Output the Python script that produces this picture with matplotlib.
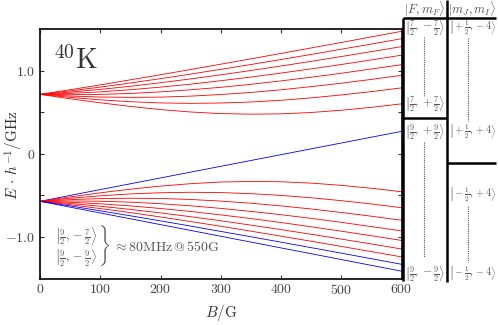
import matplotlib
matplotlib.use('Agg')
import matplotlib.pyplot as plt
from matplotlib.lines import Line2D

plt.rcParams['mathtext.fontset'] = 'cm'
plt.rcParams['font.family'] = 'serif'
plt.rcParams['font.serif'] = ['cmr10', 'DejaVu Serif']
plt.rcParams['axes.formatter.use_mathtext'] = True

# magnetic field (G)
B = [0, 50, 100, 150, 200, 250, 300, 350, 400, 450, 500, 550, 600]

# F = 7/2 manifold, m_F = -7/2 ... +7/2  (GHz)
F72 = [
    [0.714, 0.770, 0.828, 0.889, 0.950, 1.013, 1.077, 1.141, 1.206, 1.272, 1.338, 1.405, 1.472],
    [0.714, 0.756, 0.801, 0.851, 0.903, 0.958, 1.015, 1.073, 1.133, 1.194, 1.257, 1.319, 1.383],
    [0.714, 0.741, 0.774, 0.811, 0.854, 0.900, 0.949, 1.001, 1.055, 1.111, 1.169, 1.228, 1.288],
    [0.714, 0.726, 0.744, 0.770, 0.801, 0.837, 0.878, 0.922, 0.970, 1.021, 1.073, 1.128, 1.185],
    [0.714, 0.710, 0.714, 0.725, 0.744, 0.769, 0.799, 0.835, 0.876, 0.920, 0.968, 1.019, 1.071],
    [0.714, 0.694, 0.682, 0.678, 0.681, 0.693, 0.712, 0.737, 0.769, 0.807, 0.848, 0.894, 0.943],
    [0.714, 0.678, 0.648, 0.626, 0.611, 0.606, 0.610, 0.622, 0.643, 0.672, 0.707, 0.747, 0.792],
    [0.714, 0.661, 0.613, 0.569, 0.531, 0.502, 0.483, 0.476, 0.480, 0.496, 0.523, 0.558, 0.600],
]

# F = 9/2 manifold, m_F = +9/2 ... -9/2  (GHz)
F92 = [
    [-0.572, -0.501, -0.431, -0.361, -0.291, -0.221, -0.151, -0.081, -0.011, 0.059, 0.129, 0.199, 0.269],
    [-0.572, -0.519, -0.470, -0.426, -0.389, -0.360, -0.340, -0.333, -0.337, -0.353, -0.380, -0.415, -0.457],
    [-0.572, -0.535, -0.506, -0.483, -0.469, -0.463, -0.467, -0.480, -0.501, -0.529, -0.564, -0.604, -0.649],
    [-0.572, -0.552, -0.539, -0.535, -0.538, -0.550, -0.569, -0.595, -0.627, -0.664, -0.706, -0.751, -0.800],
    [-0.572, -0.568, -0.571, -0.582, -0.601, -0.626, -0.657, -0.693, -0.733, -0.777, -0.825, -0.876, -0.928],
    [-0.572, -0.583, -0.602, -0.627, -0.658, -0.694, -0.735, -0.779, -0.827, -0.878, -0.931, -0.986, -1.042],
    [-0.572, -0.598, -0.631, -0.669, -0.711, -0.757, -0.806, -0.858, -0.912, -0.968, -1.026, -1.085, -1.145],
    [-0.572, -0.613, -0.659, -0.708, -0.760, -0.815, -0.872, -0.931, -0.991, -1.052, -1.114, -1.177, -1.240],
    [-0.572, -0.627, -0.686, -0.746, -0.807, -0.870, -0.934, -0.998, -1.063, -1.129, -1.195, -1.262, -1.329],
    [-0.572, -0.642, -0.712, -0.782, -0.852, -0.922, -0.992, -1.062, -1.132, -1.202, -1.272, -1.342, -1.412],
]
F92_colors = ['blue'] + ['red'] * 7 + ['blue', 'blue']

xticks = [0, 100, 200, 300, 400, 500, 600]
yticks = [-1.0, -0.5, 0.0, 0.5, 1.0]
ylabels = ['$-1.0$', '', '$0$', '', '$1.0$']

W, H = 498, 325
fig = plt.figure(figsize=(W / 100, H / 100), dpi=100)


def px(x, y):
    return x / W, 1 - y / H


ax = fig.add_axes([40 / W, 1 - 278.5 / H, (401.5 - 40) / W, (278.5 - 29) / H])

for ys in F72:
    ax.plot(B, ys, color='red', lw=0.6)
for ys, c in zip(F92, F92_colors):
    ax.plot(B, ys, color=c, lw=0.6)

ax.set_xlim(0, 600)
ax.set_ylim(-1.5, 1.5)
ax.set_xticks(xticks)
ax.set_yticks(yticks)
ax.set_yticklabels(ylabels)
ax.tick_params(direction='in', length=3, width=0.8, top=True, right=True,
               labelsize=10, colors='#333333', labelcolor='#444444')
for s in ax.spines.values():
    s.set_linewidth(1.2)
ax.set_xlabel(r'$B/\mathrm{G}$', fontsize=11, color='#333333', labelpad=4)
fig.text(*px(14, 155), r'$E\,\cdot\,h^{-1}/\mathrm{GHz}$', rotation=90, fontsize=11,
         color='#333333', ha='center', va='center')

ax.text(0.035, 0.93, r'$^{40}\mathrm{K}$', transform=ax.transAxes, fontsize=20,
        color='#333333', va='top', ha='left')

# annotation for the two lowest states
gray = '#555555'
ax.text(*px(55, 245),
        r'$\left.\genfrac{}{}{0}{}{\left|\frac{9}{2},-\frac{7}{2}\right\rangle}'
        r'{\left|\frac{9}{2},-\frac{9}{2}\right\rangle}\right\}$',
        transform=fig.transFigure, fontsize=12.5, color=gray, va='center', ha='left')
ax.text(*px(113, 247), r'$\approx 80\mathrm{MHz}\,$@$\,550\mathrm{G}$',
        transform=fig.transFigure, fontsize=10, color=gray, va='center', ha='left')

# state table on the right
lines = [
    ((403, 496), (17.5, 17.5)),
    ((402.5, 402.5), (17.5, 281)),
    ((447, 447), (0, 282)),
    ((402.5, 447), (117.5, 117.5)),
    ((447, 496), (163, 163)),
]
for xs, ys in lines:
    fig.add_artist(Line2D([x / W for x in xs], [1 - y / H for y in ys],
                          color='black', lw=1.8, solid_capstyle='butt'))

dotted = [(424, 37, 96), (424, 142, 257), (468, 38, 121), (468, 206, 262)]
for x, y0, y1 in dotted:
    fig.add_artist(Line2D([x / W, x / W], [1 - y0 / H, 1 - y1 / H],
                          color='#555555', lw=0.8, ls=(0, (1, 1))))

table_text = [
    (425, 9, r'$|F,m_F\rangle$', 'center', 9),
    (472, 9, r'$|m_J,m_I\rangle$', 'center', 9),
    (405, 28, r'$\left|\frac{7}{2},-\frac{7}{2}\right\rangle$', 'left', 8.5),
    (405, 104, r'$\left|\frac{7}{2},+\frac{7}{2}\right\rangle$', 'left', 8.5),
    (405, 132, r'$\left|\frac{9}{2},+\frac{9}{2}\right\rangle$', 'left', 8.5),
    (405, 274, r'$\left|\frac{9}{2},-\frac{9}{2}\right\rangle$', 'left', 8.5),
    (448.5, 28, r'$\left|+\frac{1}{2},-4\right\rangle$', 'left', 7.3),
    (448.5, 132, r'$\left|+\frac{1}{2},+4\right\rangle$', 'left', 7.3),
    (448.5, 195, r'$\left|-\frac{1}{2},+4\right\rangle$', 'left', 7.3),
    (448.5, 274, r'$\left|-\frac{1}{2},-4\right\rangle$', 'left', 7.3),
]
for x, y, s, ha, fs in table_text:
    fig.text(*px(x, y), s, fontsize=fs, color=gray, ha=ha, va='center')

fig.savefig('out.png', dpi=100)
